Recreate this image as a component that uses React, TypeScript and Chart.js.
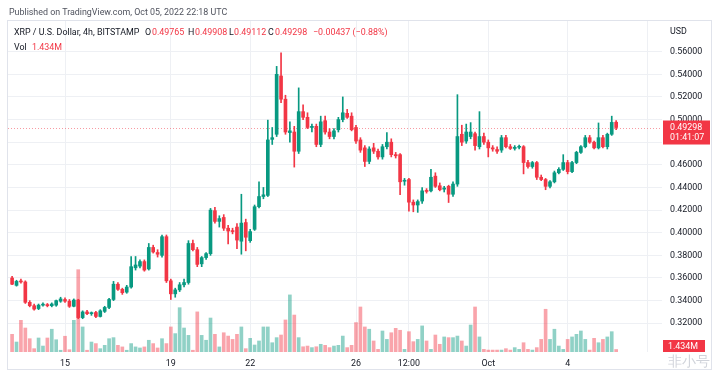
import React, { useEffect, useRef } from "react";
import { Chart, registerables } from "chart.js";
Chart.register(...registerables);

// ---- data (XRP/USD 4h, BITSTAMP, Sep 13 – Oct 5 2022) ----
const candleOpen = [
  0.3600, 0.3535, 0.3570, 0.3565, 0.3385, 0.3355, 0.3330, 0.3360, 0.3365, 0.3355,
  0.3360, 0.3395, 0.3410, 0.3395, 0.3350, 0.3405, 0.3250, 0.3300, 0.3285, 0.3295,
  0.3260, 0.3305, 0.3340, 0.3410, 0.3545, 0.3500, 0.3475, 0.3520, 0.3690, 0.3705,
  0.3745, 0.3680, 0.3870, 0.3825, 0.3800, 0.3965, 0.3575, 0.3460, 0.3495, 0.3540,
  0.3560, 0.3905, 0.3850, 0.3725, 0.3780, 0.3815, 0.4195, 0.4100, 0.4135, 0.4040,
  0.4015, 0.4050, 0.3925, 0.4090, 0.3930, 0.4030, 0.4230, 0.4320, 0.4330, 0.4825,
  0.4870, 0.5385, 0.5180, 0.4885, 0.4890, 0.4720, 0.5070, 0.5020, 0.4930, 0.4940,
  0.4780, 0.4990, 0.4890, 0.4850, 0.4910, 0.5000, 0.5055, 0.5030, 0.4930, 0.4820,
  0.4750, 0.4630, 0.4750, 0.4720, 0.4670, 0.4760, 0.4800, 0.4690, 0.4690, 0.4455,
  0.4470, 0.4270, 0.4245, 0.4280, 0.4370, 0.4370, 0.4500, 0.4415, 0.4385, 0.4410,
  0.4340, 0.4430, 0.4870, 0.4810, 0.4850, 0.4875, 0.4760, 0.4850, 0.4800, 0.4750,
  0.4735, 0.4730, 0.4840, 0.4760, 0.4745, 0.4755, 0.4760, 0.4620, 0.4585, 0.4620,
  0.4490, 0.4470, 0.4410, 0.4450, 0.4530, 0.4560, 0.4620, 0.4540, 0.4620, 0.4710,
  0.4760, 0.4840, 0.4800, 0.4750, 0.4840, 0.4760, 0.4870, 0.49765,
];
const candleHigh = [
  0.3615, 0.3580, 0.3590, 0.3575, 0.3400, 0.3370, 0.3370, 0.3380, 0.3375, 0.3380,
  0.3405, 0.3430, 0.3425, 0.3410, 0.3415, 0.3412, 0.3310, 0.3315, 0.3300, 0.3305,
  0.3320, 0.3350, 0.3420, 0.3570, 0.3560, 0.3510, 0.3535, 0.3790, 0.3790, 0.3760,
  0.3760, 0.3905, 0.3890, 0.3850, 0.3980, 0.3980, 0.3590, 0.3510, 0.3560, 0.3590,
  0.3930, 0.3935, 0.3870, 0.3790, 0.3825, 0.4215, 0.4225, 0.4150, 0.4160, 0.4065,
  0.4040, 0.4080, 0.4340, 0.4120, 0.4030, 0.4245, 0.4450, 0.4400, 0.4995, 0.4930,
  0.5470, 0.5590, 0.5215, 0.4980, 0.4940, 0.5280, 0.5130, 0.5060, 0.4960, 0.4960,
  0.5030, 0.5030, 0.4920, 0.4920, 0.5020, 0.5200, 0.5090, 0.5060, 0.4950, 0.4840,
  0.4770, 0.4760, 0.4790, 0.4740, 0.4780, 0.4885, 0.4830, 0.4710, 0.4700, 0.4480,
  0.4480, 0.4290, 0.4290, 0.4400, 0.4390, 0.4560, 0.4530, 0.4440, 0.4410, 0.4420,
  0.4450, 0.5220, 0.4950, 0.4960, 0.4973, 0.4890, 0.5070, 0.4880, 0.4820, 0.4770,
  0.4760, 0.4860, 0.4860, 0.4780, 0.4770, 0.4775, 0.4770, 0.4640, 0.4630, 0.4630,
  0.4510, 0.4480, 0.4460, 0.4545, 0.4575, 0.4690, 0.4640, 0.4630, 0.4720, 0.4770,
  0.4860, 0.4860, 0.4810, 0.4970, 0.4860, 0.4880, 0.5030, 0.49908,
];
const candleLow = [
  0.3540, 0.3528, 0.3555, 0.3375, 0.3345, 0.3315, 0.3320, 0.3350, 0.3345, 0.3345,
  0.3350, 0.3385, 0.3385, 0.3340, 0.3345, 0.3240, 0.3240, 0.3275, 0.3270, 0.3250,
  0.3255, 0.3295, 0.3330, 0.3400, 0.3490, 0.3455, 0.3465, 0.3510, 0.3670, 0.3690,
  0.3660, 0.3670, 0.3820, 0.3785, 0.3785, 0.3560, 0.3410, 0.3430, 0.3480, 0.3520,
  0.3545, 0.3840, 0.3700, 0.3700, 0.3765, 0.3800, 0.4085, 0.4050, 0.4020, 0.3900,
  0.3990, 0.3860, 0.3810, 0.3840, 0.3915, 0.4020, 0.4220, 0.4300, 0.4320, 0.4780,
  0.4850, 0.5150, 0.4870, 0.4800, 0.4580, 0.4700, 0.5000, 0.4920, 0.4890, 0.4760,
  0.4760, 0.4870, 0.4830, 0.4830, 0.4890, 0.4980, 0.5010, 0.4900, 0.4790, 0.4710,
  0.4585, 0.4610, 0.4700, 0.4650, 0.4650, 0.4740, 0.4670, 0.4660, 0.4336, 0.4420,
  0.4190, 0.4185, 0.4180, 0.4260, 0.4350, 0.4360, 0.4400, 0.4370, 0.4360, 0.4267,
  0.4320, 0.4410, 0.4770, 0.4790, 0.4830, 0.4730, 0.4740, 0.4780, 0.4670, 0.4720,
  0.4700, 0.4710, 0.4750, 0.4735, 0.4730, 0.4740, 0.4520, 0.4570, 0.4570, 0.4470,
  0.4460, 0.4380, 0.4395, 0.4440, 0.4520, 0.4550, 0.4520, 0.4530, 0.4610, 0.4700,
  0.4750, 0.4790, 0.4740, 0.4740, 0.4750, 0.4740, 0.4860, 0.49112,
];
const candleClose = [
  0.3545, 0.3570, 0.3565, 0.3385, 0.3355, 0.3325, 0.3360, 0.3365, 0.3355, 0.3370,
  0.3400, 0.3415, 0.3395, 0.3350, 0.3405, 0.3250, 0.3300, 0.3285, 0.3290, 0.3260,
  0.3310, 0.3340, 0.3410, 0.3545, 0.3500, 0.3470, 0.3520, 0.3700, 0.3715, 0.3745,
  0.3670, 0.3870, 0.3830, 0.3810, 0.3965, 0.3575, 0.3460, 0.3495, 0.3540, 0.3560,
  0.3905, 0.3850, 0.3720, 0.3780, 0.3815, 0.4200, 0.4100, 0.4125, 0.4040, 0.4015,
  0.4010, 0.3935, 0.4085, 0.3960, 0.4010, 0.4230, 0.4320, 0.4335, 0.4820, 0.4840,
  0.5400, 0.5180, 0.4890, 0.4900, 0.4720, 0.5070, 0.5020, 0.4930, 0.4940, 0.4780,
  0.4980, 0.4890, 0.4850, 0.4900, 0.5000, 0.5060, 0.5020, 0.4910, 0.4810, 0.4730,
  0.4630, 0.4740, 0.4720, 0.4670, 0.4760, 0.4800, 0.4690, 0.4680, 0.4450, 0.4460,
  0.4270, 0.4245, 0.4275, 0.4370, 0.4365, 0.4490, 0.4410, 0.4380, 0.4395, 0.4340,
  0.4430, 0.4850, 0.4800, 0.4890, 0.4890, 0.4770, 0.4850, 0.4800, 0.4750, 0.4740,
  0.4720, 0.4840, 0.4760, 0.4745, 0.4755, 0.4760, 0.4620, 0.4585, 0.4620, 0.4490,
  0.4470, 0.4410, 0.4450, 0.4530, 0.4560, 0.4620, 0.4540, 0.4620, 0.4710, 0.4760,
  0.4840, 0.4800, 0.4750, 0.4840, 0.4760, 0.4870, 0.4975, 0.49298,
];
// volume in millions
const volumeM = [
  10.1, 5.7, 18.1, 13.7, 7.6, 1.9, 8.0, 3.4, 8.0, 13.0,
  7.0, 1.0, 9.0, 1.3, 18.1, 47.0, 14.3, 1.0, 5.7, 4.8,
  1.9, 3.8, 7.6, 8.2, 3.8, 2.9, 1.0, 4.8, 2.9, 2.3,
  2.9, 6.7, 4.8, 2.3, 7.6, 4.8, 14.3, 10.5, 25.3, 13.7,
  9.5, 1.0, 22.9, 9.5, 6.7, 19.4, 10.1, 2.9, 11.0, 9.1,
  7.2, 10.1, 14.3, 1.9, 7.8, 4.0, 6.3, 14.3, 14.3, 5.3,
  8.2, 9.7, 18.3, 32.6, 21.1, 8.2, 3.0, 3.4, 2.5, 3.0,
  4.4, 3.8, 2.5, 3.4, 3.8, 9.1, 2.5, 3.8, 16.8, 25.7,
  14.3, 13.0, 6.3, 1.5, 12.0, 7.2, 11.0, 13.5, 12.4, 1.5,
  11.6, 5.9, 7.2, 14.9, 6.3, 1.5, 9.7, 4.4, 8.6, 8.2,
  8.2, 9.1, 6.3, 3.4, 15.4, 25.7, 8.6, 1.5, 1.1, 1.1,
  1.1, 1.1, 1.9, 1.1, 2.5, 1.5, 5.3, 1.5, 1.1, 2.5,
  7.2, 24.4, 7.2, 13.0, 3.4, 1.5, 7.2, 8.6, 10.1, 12.0,
  7.2, 1.1, 7.8, 5.3, 7.2, 8.6, 11.6, 1.434,
];
const timeTickIndex = [12, 36, 54, 78, 90, 108, 126, 144];
const timeTickText = ["15", "19", "22", "26", "12:00", "Oct", "4", ""];
const priceTicks = [0.32, 0.34, 0.36, 0.38, 0.40, 0.42, 0.44, 0.46, 0.48, 0.50, 0.52, 0.54, 0.56];
const lastPriceText = "0.49298";
const countdownText = "01:41:07";
const lastVolText = "1.434M";

const UP = "#089981";
const DOWN = "#f23645";
const UP_VOL = "rgba(8,153,129,0.45)";
const DOWN_VOL = "rgba(242,54,69,0.45)";
const FONT = "Roboto, 'Noto Sans', sans-serif";
const FS = 8.9;

const overlay = {
  id: "tvOverlay",
  beforeDatasetsDraw(chart: any) {
    const { ctx, chartArea } = chart;
    const y = Math.round(chart.scales.y.getPixelForValue(candleClose[candleClose.length - 1])) + 0.5;
    ctx.save();
    ctx.strokeStyle = "rgba(242,54,69,0.5)";
    ctx.lineWidth = 1;
    ctx.setLineDash([1, 2]);
    ctx.beginPath();
    ctx.moveTo(chartArea.left, y);
    ctx.lineTo(chartArea.right, y);
    ctx.stroke();
    ctx.restore();
  },
  afterDatasetsDraw(chart: any) {
    const { ctx, chartArea } = chart;
    const n = candleClose.length - 1;
    const y = chart.scales.y.getPixelForValue(candleClose[n]);
    const x0 = chartArea.right + 1;
    ctx.save();
    ctx.fillStyle = DOWN;
    ctx.fillRect(x0, y - 7, 47, 24);
    ctx.fillStyle = "#ffffff";
    ctx.font = `${FS}px ${FONT}`;
    ctx.textAlign = "left";
    ctx.textBaseline = "middle";
    ctx.fillText(lastPriceText, x0 + 7, y);
    ctx.fillText(countdownText, x0 + 7, y + 10.5);
    const vy = Math.min(chart.scales.yv.getPixelForValue(volumeM[n]), chartArea.bottom - 6);
    ctx.fillStyle = DOWN;
    ctx.fillRect(x0, vy - 6, 42, 12);
    ctx.fillStyle = "#ffffff";
    ctx.fillText(lastVolText, x0 + 5, vy + 0.5);
    ctx.restore();
  },
};

export default function App() {
  const ref = useRef<HTMLCanvasElement>(null);
  useEffect(() => {
    const idx = candleOpen.map((_, i) => i);
    const up = idx.map((i) => candleClose[i] >= candleOpen[i]);
    const chart = new Chart(ref.current as HTMLCanvasElement, {
      type: "bar",
      data: {
        datasets: [
          {
            label: "body",
            data: idx.map((i) => ({ x: i, y: [candleOpen[i], candleClose[i]] })) as any,
            backgroundColor: idx.map((i) => (up[i] ? UP : DOWN)),
            barThickness: 3,
            minBarLength: 1,
            grouped: false,
            order: 0,
            yAxisID: "y",
            borderWidth: 0,
          } as any,
          {
            label: "wick",
            data: idx.map((i) => ({ x: i, y: [candleLow[i], candleHigh[i]] })) as any,
            backgroundColor: idx.map((i) => (up[i] ? UP : DOWN)),
            barThickness: 1,
            grouped: false,
            order: 1,
            yAxisID: "y",
            borderWidth: 0,
          } as any,
          {
            label: "volume",
            data: idx.map((i) => ({ x: i, y: volumeM[i] })) as any,
            backgroundColor: idx.map((i) => (up[i] ? UP_VOL : DOWN_VOL)),
            barThickness: 3,
            grouped: false,
            order: 2,
            yAxisID: "yv",
            borderWidth: 0,
          } as any,
        ],
      },
      options: {
        responsive: false,
        maintainAspectRatio: false,
        animation: false,
        layout: { padding: { left: 8, top: 21, right: 0, bottom: 4 } },
        plugins: { legend: { display: false }, tooltip: { enabled: false } },
        scales: {
          x: {
            type: "linear",
            min: -0.93,
            max: 147.4,
            offset: false,
            grid: { color: "#eef0f4", drawTicks: false, offset: false },
            border: { display: false },
            ticks: {
              padding: 6,
              color: "#131722",
              font: { size: FS, family: FONT },
              maxRotation: 0,
              autoSkip: false,
              callback: (v: any) => {
                const k = timeTickIndex.indexOf(Number(v));
                return k >= 0 ? timeTickText[k] : "";
              },
            },
            afterBuildTicks: (s: any) => {
              s.ticks = timeTickIndex.map((v) => ({ value: v }));
            },
            afterFit: (s: any) => {
              s.height = 19;
            },
          },
          y: {
            type: "linear",
            position: "right",
            min: 0.2946,
            max: 0.5871,
            grid: { color: "#eef0f4", drawTicks: false },
            border: { display: false },
            ticks: {
              padding: 8,
              color: "#131722",
              font: { size: FS, family: FONT },
              callback: (v: any) => Number(v).toFixed(5),
            },
            afterBuildTicks: (s: any) => {
              s.ticks = priceTicks.map((v) => ({ value: v }));
            },
            afterFit: (s: any) => {
              s.width = 56;
            },
          },
          yv: { type: "linear", display: false, min: 0, max: 189 },
        },
      } as any,
      plugins: [overlay],
    });
    return () => chart.destroy();
  }, []);

  const t = (style: React.CSSProperties, text: string) => (
    <div style={{ position: "absolute", whiteSpace: "nowrap", fontFamily: FONT, fontSize: FS, lineHeight: "10px", ...style }}>
      {text}
    </div>
  );
  const red = "#f23645";
  const dark = "#131722";
  return (
    <div style={{ position: "absolute", left: 0, top: 0, width: 718, height: 375, background: "#fff", overflow: "hidden" }}>
      <div style={{ position: "absolute", left: 7, top: 20, width: 705, height: 350, border: "1px solid #e0e3eb", boxSizing: "border-box" }} />
      <canvas ref={ref} width={718} height={375} style={{ position: "absolute", left: 0, top: 0 }} />
      {t({ left: 9, top: 7, color: "#50535e" }, "Published on TradingView.com, Oct 05, 2022 22:18 UTC")}
      {t({ left: 14, top: 27, color: dark }, "XRP / U.S. Dollar, 4h, BITSTAMP")}
      {t({ left: 145, top: 27, color: dark }, "O")}
      {t({ left: 152, top: 27, color: red }, "0.49765")}
      {t({ left: 188, top: 27, color: dark }, "H")}
      {t({ left: 195, top: 27, color: red }, "0.49908")}
      {t({ left: 229, top: 27, color: dark }, "L")}
      {t({ left: 234, top: 27, color: red }, "0.49112")}
      {t({ left: 268, top: 27, color: dark }, "C")}
      {t({ left: 275, top: 27, color: red }, "0.49298")}
      {t({ left: 313, top: 27, color: red }, "−0.00437 (−0.88%)")}
      {t({ left: 14, top: 42, color: dark }, "Vol")}
      {t({ left: 32, top: 42, color: red }, "1.434M")}
      {t({ left: 670, top: 26, color: dark }, "USD")}
      {t({ left: 668, top: 353, color: "rgba(120,130,150,0.35)", fontSize: 14, lineHeight: "16px" }, "非小号")}
    </div>
  );
}
